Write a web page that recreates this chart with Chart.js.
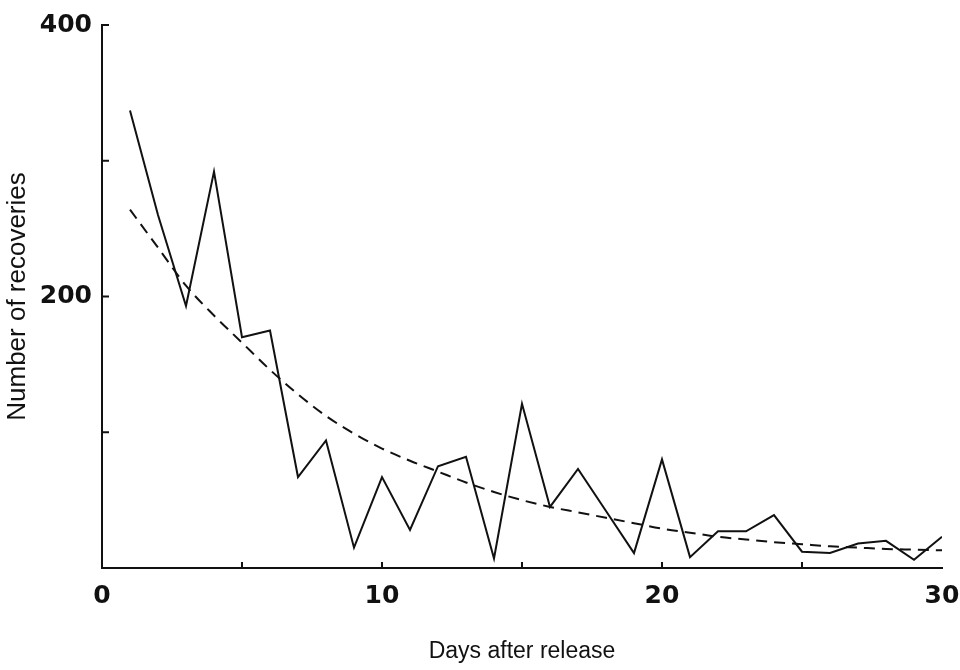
<!DOCTYPE html>
<html>
<head>
<meta charset="utf-8">
<script src="https://cdn.jsdelivr.net/npm/chart.js@4/dist/chart.umd.min.js"></script>
<style>
  html, body { margin: 0; padding: 0; background: #fff; }
  #wrap { width: 960px; height: 670px; }
</style>
</head>
<body>
<div id="wrap"><canvas id="recoveryChart" width="960" height="670"></canvas></div>
<script>
// days after release
const days = [1, 2, 3, 4, 5, 6, 7, 8, 9, 10, 11, 12, 13, 14, 15,
              16, 17, 18, 19, 20, 21, 22, 23, 24, 25, 26, 27, 28, 29, 30];

// observed recoveries (solid line)
const recoveries = [337, 260, 193, 292, 170, 175, 67, 94, 15, 67, 28, 75, 82, 7, 121,
                    45, 73, 42, 11, 80, 8, 27, 27, 39, 12, 11, 18, 20, 6, 23];

// fitted curve (dashed line)
const fitted = [264, 236, 208, 186, 166, 146, 128, 112, 99, 88, 79, 71, 63, 56, 50,
                45, 41, 37, 33, 29, 26, 23, 21, 19, 17.5, 16, 15, 14, 13.5, 13];

const yLabelled = [200, 400];
const xLabelled = [0, 10, 20, 30];

// small tick marks pointing into the plot, like the original figure
const innerTicks = {
    id: 'innerTicks',
    afterDraw(chart) {
        const ctx = chart.ctx;
        const xs = chart.scales.x;
        const ys = chart.scales.y;
        ctx.save();
        ctx.strokeStyle = '#111';
        ctx.lineWidth = 2;
        ys.ticks.forEach(t => {
            if (t.value === 0) return;
            const py = ys.getPixelForValue(t.value);
            ctx.beginPath();
            ctx.moveTo(xs.left, py);
            ctx.lineTo(xs.left + 7, py);
            ctx.stroke();
        });
        xs.ticks.forEach(t => {
            if (t.value === 0 || t.value === 30) return;
            const px = xs.getPixelForValue(t.value);
            ctx.beginPath();
            ctx.moveTo(px, ys.bottom);
            ctx.lineTo(px, ys.bottom - 6);
            ctx.stroke();
        });
        ctx.restore();
    }
};

const tickFont = { family: 'DejaVu Sans', size: 25, weight: 'bold' };

new Chart(document.getElementById('recoveryChart').getContext('2d'), {
    type: 'line',
    data: {
        datasets: [{
            label: 'Recoveries',
            data: days.map((d, i) => ({ x: d, y: recoveries[i] })),
            borderColor: '#111',
            borderWidth: 2,
            pointRadius: 0,
            tension: 0,
            fill: false
        }, {
            label: 'Fitted',
            data: days.map((d, i) => ({ x: d, y: fitted[i] })),
            borderColor: '#111',
            borderWidth: 2,
            borderDash: [11, 7],
            pointRadius: 0,
            cubicInterpolationMode: 'monotone',
            fill: false
        }]
    },
    options: {
        responsive: false,
        animation: false,
        layout: { padding: { top: 21, right: 18, bottom: 0, left: 0 } },
        plugins: {
            legend: { display: false },
            tooltip: { enabled: false }
        },
        scales: {
            x: {
                type: 'linear',
                min: 0,
                max: 30,
                grid: { display: true, drawOnChartArea: false, drawTicks: false },
                border: { display: true, color: '#111', width: 2 },
                ticks: {
                    stepSize: 5,
                    padding: 13,
                    color: '#111',
                    font: tickFont,
                    maxRotation: 0,
                    callback: v => xLabelled.includes(v) ? String(v) : ''
                },
                title: {
                    display: true,
                    text: 'Days after release',
                    color: '#111',
                    font: { family: 'Liberation Sans', size: 23 },
                    padding: { top: 0, bottom: 5 }
                },
                afterFit: scale => {
                    scale.height = 102;
                    scale.paddingLeft = 0;
                    scale.paddingRight = 0;
                }
            },
            y: {
                min: 0,
                max: 400,
                grid: { display: true, drawOnChartArea: false, drawTicks: false },
                border: { display: true, color: '#111', width: 2 },
                ticks: {
                    stepSize: 100,
                    padding: 10,
                    color: '#111',
                    font: tickFont,
                    callback: v => yLabelled.includes(v) ? String(v) : ''
                },
                title: {
                    display: true,
                    text: 'Number of recoveries',
                    color: '#111',
                    font: { family: 'Liberation Sans', size: 26 },
                    padding: { top: 2, bottom: 0 }
                },
                afterFit: scale => { scale.width = 102; }
            }
        }
    },
    plugins: [innerTicks]
});
</script>
</body>
</html>
